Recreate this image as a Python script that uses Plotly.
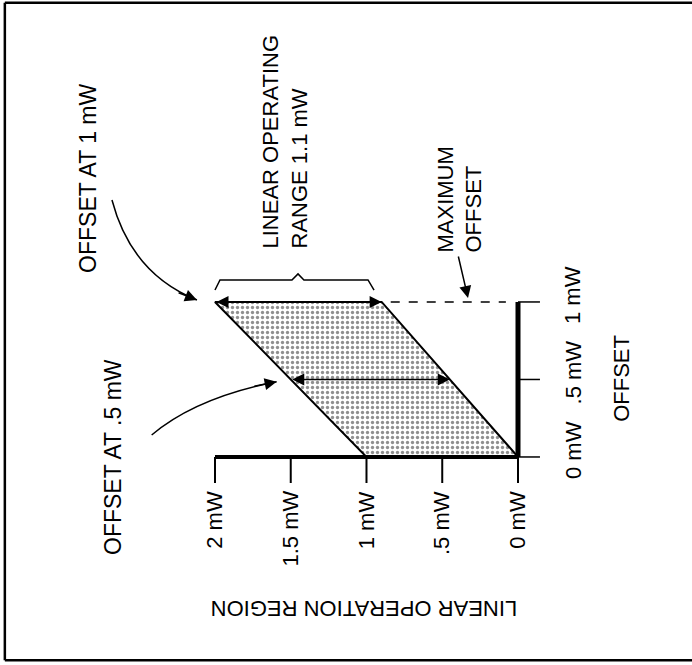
import plotly.graph_objects as go

# ---- data ----
region_ticks = [0, 0.5, 1, 1.5, 2]
region_labels = ["0 mW", ".5 mW", "1 mW", "1.5 mW", "2 mW"]
offset_ticks = [0, 0.5, 1]
offset_labels = ["0 mW", ".5 mW", "1 mW"]
region_corners = [0, 1, 2, 0.9, 0]
offset_corners = [0, 0, 1, 1, 0]
range_offsets = [0.5, 1.0]
range_low = [0.45, 0.9]
range_high = [1.5, 2.0]
max_offset = 1.0

FONT = "Liberation Sans, Arial, sans-serif"
FS = 22

fig = go.Figure()
fig.add_trace(go.Scatter(
    x=region_corners, y=offset_corners, mode="lines", fill="toself",
    line=dict(color="black", width=2),
    fillpattern=dict(shape=".", fgcolor="#222222", bgcolor="white", size=5, solidity=0.35),
    hoverinfo="skip", showlegend=False))

shapes = []
# axis lines
shapes.append(dict(type="line", xref="x", yref="y", x0=max(region_ticks), y0=0, x1=0, y1=0,
                   line=dict(color="black", width=4)))
shapes.append(dict(type="line", xref="x", yref="y", x0=0, y0=0, x1=0, y1=max(offset_ticks),
                   line=dict(color="black", width=5)))
for r in region_ticks:
    shapes.append(dict(type="line", xref="x", yref="y", x0=r, y0=0, x1=r, y1=-0.168,
                       line=dict(color="black", width=2)))
for o in offset_ticks:
    shapes.append(dict(type="line", xref="x", yref="y", x0=0, y0=o, x1=-0.145, y1=o,
                       line=dict(color="black", width=1.5)))
# dashed maximum offset line
shapes.append(dict(type="line", xref="x", yref="y", x0=range_low[-1] - 0.06, y0=max_offset,
                   x1=0.08, y1=max_offset, line=dict(color="black", width=1.5, dash="dash")))
# brace over linear operating range
shapes.append(dict(type="path", xref="x", yref="y",
                   path="M 2.0,1.077 L 1.967,1.142 L 1.492,1.142 L 1.452,1.181 L 1.413,1.142 "
                        "L 0.990,1.142 L 0.950,1.077",
                   line=dict(color="black", width=1.5)))
# curved leader lines
shapes.append(dict(type="path", xref="x", yref="y",
                   path="M 2.680,1.658 Q 2.551,1.181 2.119,1.013",
                   line=dict(color="black", width=1.5)))
shapes.append(dict(type="path", xref="x", yref="y",
                   path="M 2.418,0.142 Q 2.127,0.383 1.593,0.486",
                   line=dict(color="black", width=1.5)))
# frame (top, left, bottom)
for (x0, y0, x1, y1) in [(0.007, 0.996, 1.0, 0.996), (0.007, 0.996, 0.007, 0.007), (0.007, 0.007, 1.0, 0.007)]:
    shapes.append(dict(type="line", xref="paper", yref="paper", x0=x0, y0=y0, x1=x1, y1=y1,
                       line=dict(color="black", width=2.5)))

ann = []
# range arrows (double-headed)
for o, lo, hi in zip(range_offsets, range_low, range_high):
    ann.append(dict(x=lo, y=o, ax=hi, ay=o, xref="x", yref="y", axref="x", ayref="y",
                    text="", showarrow=True, arrowside="end+start", arrowhead=2,
                    arrowsize=1.6, arrowwidth=1.5, arrowcolor="black"))
# arrowheads for curved leaders
ann.append(dict(x=2.119, y=1.013, ax=2.25, ay=1.063, xref="x", yref="y", axref="x", ayref="y",
                text="", showarrow=True, arrowhead=2, arrowsize=1.6, arrowwidth=1.5, arrowcolor="black"))
ann.append(dict(x=1.593, y=0.486, ax=1.75, ay=0.455, xref="x", yref="y", axref="x", ayref="y",
                text="", showarrow=True, arrowhead=2, arrowsize=1.6, arrowwidth=1.5, arrowcolor="black"))
# maximum offset arrow
ann.append(dict(x=0.330, y=1.026, ax=0.396, ay=1.303, xref="x", yref="y", axref="x", ayref="y",
                text="", showarrow=True, arrowhead=2, arrowsize=1.6, arrowwidth=1.5, arrowcolor="black"))

txt = dict(showarrow=False, xref="x", yref="y", font=dict(family=FONT, size=FS, color="black"))
for r, lab in zip(region_ticks, region_labels):
    ann.append(dict(x=r, y=-0.205, text=lab, textangle=-90, xanchor="center", yanchor="top", **txt))
for o, lab in zip(offset_ticks, offset_labels):
    ann.append(dict(x=-0.363, y=o + 0.045, text=lab, textangle=-90, xanchor="center", yanchor="middle", **txt))
ann.append(dict(x=1.016, y=-0.974, text="LINEAR OPERATION REGION", textangle=180,
                xanchor="center", yanchor="middle", **txt))
ann.append(dict(x=-0.686, y=0.51, text="OFFSET", textangle=-90, xanchor="center", yanchor="middle", **txt))
ann.append(dict(x=2.838, y=1.794, text="OFFSET AT 1 mW", textangle=-90, xanchor="center", yanchor="middle",
                showarrow=False, xref="x", yref="y", font=dict(family=FONT, size=23, color="black")))
ann.append(dict(x=2.673, y=0.0, text="OFFSET AT .5 mW", textangle=-90, xanchor="center", yanchor="middle",
                showarrow=False, xref="x", yref="y", font=dict(family=FONT, size=23, color="black")))
ann.append(dict(x=1.538, y=2.035, text="LINEAR OPERATING<br>RANGE 1.1 mW", textangle=-90, align="left",
                xanchor="center", yanchor="middle", **txt))
ann.append(dict(x=0.386, y=1.658, text="MAXIMUM<br>OFFSET", textangle=-90, align="left",
                xanchor="center", yanchor="middle", **txt))

fig.update_layout(
    width=692, height=665, margin=dict(l=0, r=0, t=0, b=0),
    paper_bgcolor="white", plot_bgcolor="white",
    xaxis=dict(range=[3.419, -1.1485], visible=False, domain=[0, 1]),
    yaxis=dict(range=[-1.342, 2.948], visible=False, domain=[0, 1]),
    shapes=shapes, annotations=ann, showlegend=False)

fig.write_html("out.html", config={"displayModeBar": False, "staticPlot": True},
               post_script="document.body.style.margin='0';document.body.style.overflow='hidden';")
